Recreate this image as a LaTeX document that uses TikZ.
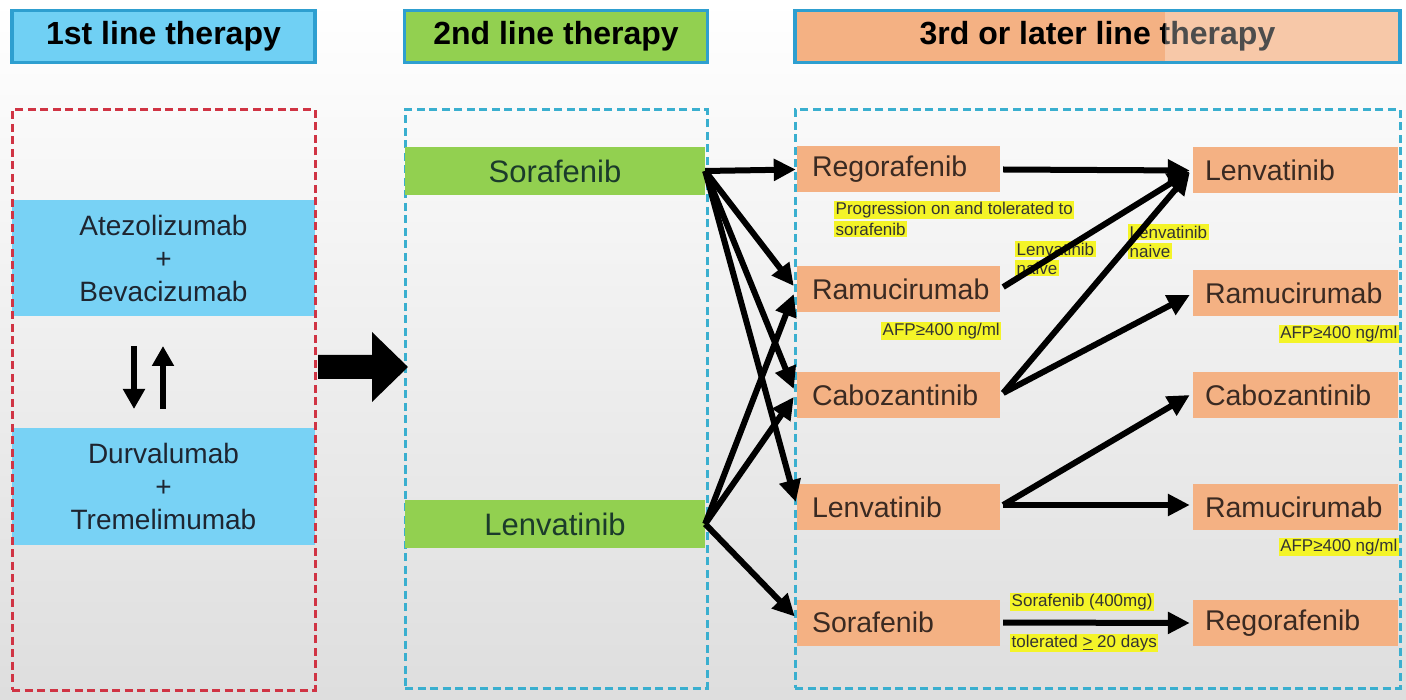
\documentclass[tikz,border=0pt]{standalone}
\usepackage{fontspec}
\setmainfont{Liberation Sans}
\usetikzlibrary{arrows.meta,calc}
\definecolor{hblue}{HTML}{70D0F4}
\definecolor{hborder}{HTML}{2E9FD0}
\definecolor{lgreen}{HTML}{92D050}
\definecolor{lorange}{HTML}{F4B183}
\definecolor{hyel}{HTML}{F4F428}
\definecolor{dred}{HTML}{D03444}
\definecolor{dblue}{HTML}{3AAFCF}
\definecolor{bluebox}{HTML}{78D2F5}
\definecolor{txtdark}{HTML}{1E2530}
\definecolor{txtbrown}{HTML}{3A2A22}
\tikzset{
  hdr/.style={draw=hborder, line width=3.5pt, minimum width=303pt, minimum height=52pt,
    font=\fontsize{32}{36}\bfseries\selectfont, inner sep=0pt},
  dbox/.style={line width=3pt, dash pattern=on 8pt off 4.5pt, minimum height=578pt, inner sep=0pt},
  firstbox/.style={fill=bluebox, minimum width=303pt, minimum height=116pt, align=center,
    font=\fontsize{28}{33}\selectfont, text=txtdark, inner sep=0pt},
  greenbox/.style={fill=lgreen, minimum width=300pt, minimum height=48pt,
    font=\fontsize{31}{34}\selectfont, text=txtdark!90!green, inner sep=0pt},
  orbox/.style={fill=lorange, minimum height=46pt, align=left,
    font=\fontsize{28.5}{32}\selectfont, text=txtbrown, inner ysep=0pt},
  leftor/.style={orbox, text width=173pt, inner xsep=15pt},
  rightor/.style={orbox, text width=181pt, inner xsep=12pt},
  hl/.style={fill=hyel, inner sep=1.5pt, font=\fontsize{17}{18}\selectfont, text=black!80},
  conn/.style={line width=6pt, -{Triangle[length=22pt,width=21pt]}},
  updown/.style={line width=6.5pt, -{Triangle[length=20pt,width=21pt]}}
}
\begin{document}
\begin{tikzpicture}[x=1pt,y=-1pt]
\useasboundingbox (0,0) rectangle (1406,700);
\shade[top color=white, middle color=white, bottom color=black!13] (0,0) rectangle (1406,700);

% headers
\node[hdr, fill=hblue] (h1) at (163.5,36.5) {1st line therapy};
\node[hdr, fill=lgreen] (h2) at (556,36.5) {2nd line therapy};
\node[hdr, fill=lorange, minimum width=605pt] (h3) at (1097.5,36.5) {3rd or later line therapy};
\fill[white, opacity=0.3] (1165,12) rectangle (1398,61);

% first line column
\node[firstbox] (a1) at (163.5,258) {Atezolizumab\\+\\Bevacizumab};
\node[firstbox, minimum height=117pt] (a2) at (163.5,486.5) {Durvalumab\\+\\Tremelimumab};
\coordinate (dnA) at (134,346);
\coordinate (dnB) at (134,409);
\coordinate (upA) at (163,409);
\coordinate (upB) at (163,346);
\draw[updown] (dnA) -- (dnB);
\draw[updown] (upA) -- (upB);

% dashed frames
\node[dbox, draw=dred, minimum width=303pt, minimum height=580pt] (c1) at (163.5,400) {};
\node[dbox, draw=dblue, minimum width=302pt] (c2) at (556,399) {};
\node[dbox, draw=dblue, minimum width=605pt] (c3) at (1097.5,399) {};

% big arrow
\fill[black] (318,355) -- (372,355) -- (372,332) -- (408,367) -- (372,402) -- (372,379) -- (318,379) -- cycle;

% second line
\node[greenbox] (g1) at (555,171) {Sorafenib};
\node[greenbox] (g2) at (555,524) {Lenvatinib};

% third line, left column
\node[leftor] (o1) at (898.5,169.5) {Regorafenib};
\node[leftor] (o2) at (898.5,289) {Ramucirumab};
\node[leftor] (o3) at (898.5,395) {Cabozantinib};
\node[leftor] (o4) at (898.5,507) {Lenvatinib};
\node[leftor] (o5) at (898.5,622.5) {Sorafenib};

% third line, right column
\node[rightor] (p1) at (1295.5,170.5) {Lenvatinib};
\node[rightor] (p2) at (1295.5,293) {Ramucirumab};
\node[rightor] (p3) at (1295.5,395) {Cabozantinib};
\node[rightor] (p4) at (1295.5,507) {Ramucirumab};
\node[rightor] (p5) at (1295.5,623) {Regorafenib};

% yellow labels
\node[hl, anchor=west] (l1a) at (834,210) {Progression on and tolerated to};
\node[hl, anchor=west] (l1b) at (834,229) {sorafenib};
\node[hl, anchor=west] (l2a) at (1015,249) {Lenvatinib};
\node[hl, anchor=west] (l2b) at (1015,268) {naive};
\node[hl, anchor=west] (l3a) at (1128,232) {Lenvatinib};
\node[hl, anchor=west] (l3b) at (1128,251) {naive};
\node[hl, anchor=west] (l4) at (881,331) {AFP≥400 ng/ml};
\node[hl, anchor=east] (l5) at (1399,334) {AFP≥400 ng/ml};
\node[hl, anchor=east] (l6) at (1399,547) {AFP≥400 ng/ml};
\node[hl, anchor=west] (l7) at (1010,602) {Sorafenib (400mg)};
\node[hl, anchor=west] (l8) at (1010,643) {tolerated \underline{>} 20 days};

% connectors 2nd -> 3rd
\draw[conn] (g1.east) -- ($(o1.west)+(-1,0)$);
\draw[conn] (g1.east) -- ($(o2.west)+(-3,-3)$);
\draw[conn] (g1.east) -- ($(o3.west)+(-3,-6)$);
\draw[conn] (g1.east) -- ($(o4.west)+(-1,-5)$);
\draw[conn] (g2.east) -- ($(o2.west)+(-3,5)$);
\draw[conn] (g2.east) -- ($(o3.west)+(-3,2)$);
\draw[conn] (g2.east) -- ($(o5.west)+(-2,-6)$);

% connectors within 3rd
\draw[conn] ($(o1.east)+(3,0)$) -- ($(p1.west)+(-3,0)$);
\draw[conn] ($(o2.east)+(3,-2)$) -- ($(p1.west)+(-3,1)$);
\draw[conn] ($(o3.east)+(3,-2)$) -- ($(p1.west)+(-3,2)$);
\draw[conn] ($(o3.east)+(3,-2)$) -- ($(p2.west)+(-3,2)$);
\draw[conn] ($(o4.east)+(3,-2)$) -- ($(p3.west)+(-3,0)$);
\draw[conn] ($(o4.east)+(3,-2)$) -- ($(p4.west)+(-3,-2)$);
\draw[conn] ($(o5.east)+(3,0)$) -- ($(p5.west)+(-3,0)$);
\end{tikzpicture}
\end{document}
